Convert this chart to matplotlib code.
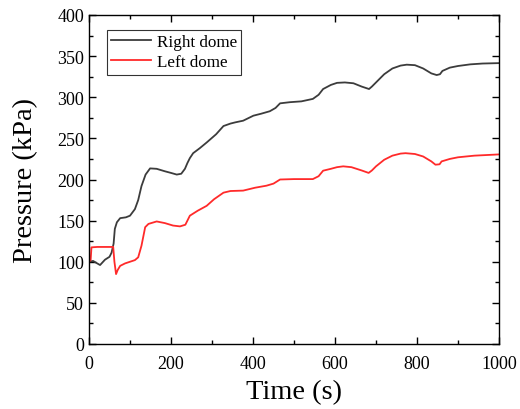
import matplotlib
matplotlib.use("Agg")
import matplotlib.pyplot as plt
from matplotlib.ticker import MultipleLocator

plt.rcParams['font.family'] = ['Liberation Serif', 'DejaVu Serif']
plt.rcParams['mathtext.fontset'] = 'stix'

# Right dome (black)
t_right = [0, 10, 20, 27, 39, 50, 55, 60, 63, 68, 76, 90, 100, 112, 120, 128, 138, 149, 165,
           185, 200, 214, 225, 234, 240, 246, 254, 270, 287, 310, 328, 345, 357, 376, 401,
           420, 441, 455, 466, 490, 518, 546, 560, 571, 590, 605, 624, 645, 665, 683, 690,
           700, 720, 740, 760, 775, 795, 815, 835, 848, 856, 862, 880, 900, 930, 960, 1000]
p_right = [100, 101, 98, 96, 102.5, 106, 111, 122, 140, 148, 153, 154, 156, 164, 175, 192, 206, 213.5, 213,
           210, 208, 206, 207, 213, 220, 226, 232, 238, 245, 255, 265, 268, 269.5, 271.5, 277.6,
           280, 283, 287, 292.6, 294, 295, 298, 303, 310, 315, 317.5, 318, 317, 313, 310, 313,
           318, 328, 335, 338.5, 339.6, 339, 335, 329, 327, 328, 332, 336, 338, 340, 341, 341.5]

# Left dome (red)
t_left = [0, 4, 6, 20, 40, 59, 62, 66, 70, 76, 88, 100, 112, 120, 128, 137, 145, 165, 185,
          205, 222, 235, 238, 246, 265, 287, 305, 328, 345, 376, 405, 433, 450, 466, 500,
          546, 560, 571, 590, 605, 620, 640, 665, 682, 690, 700, 720, 740, 760, 772, 795,
          815, 835, 845, 855, 860, 880, 900, 940, 1000]
p_left = [100, 102, 117.5, 118, 118, 118, 100, 85, 90, 95, 98, 100, 102, 105.4, 119.5, 142, 146, 149, 147,
          144, 143, 145, 148, 156, 162, 168, 176, 184, 186, 186.5, 190, 192.5, 195, 200, 200.5,
          200.5, 204, 210.7, 213, 215, 216, 215, 211, 208, 211, 216, 224, 229, 231.5, 232, 231,
          228, 222, 218, 218.5, 222, 225, 227, 229, 230.5]

fig = plt.figure(figsize=(5.2, 4.1), dpi=100)
ax = fig.add_axes([89/520, 1 - 345/410, 410/520, 329/410])

ax.plot(t_right, p_right, color='#3c3c3c', lw=1.3, label='Right dome')
ax.plot(t_left, p_left, color='#ff2a2a', lw=1.3, label='Left dome')

ax.set_xlim(0, 1000)
ax.set_ylim(0, 400)
ax.xaxis.set_major_locator(MultipleLocator(200))
ax.xaxis.set_minor_locator(MultipleLocator(100))
ax.yaxis.set_major_locator(MultipleLocator(50))
ax.yaxis.set_minor_locator(MultipleLocator(25))
ax.tick_params(which='both', direction='in', top=True, right=True, labelsize=13, width=1.0)
ax.tick_params(which='major', length=5)
ax.tick_params(which='minor', length=3)
ax.tick_params(axis='x', pad=8)
for s in ax.spines.values():
    s.set_linewidth(1.0)

ax.set_xlabel('Time (s)', fontsize=20.5, labelpad=5)
ax.set_ylabel('Pressure (kPa)', fontsize=20.5, labelpad=14)

leg = ax.legend(loc='upper left', bbox_to_anchor=(0.044, 0.955), fontsize=12.3, frameon=True,
                fancybox=False, edgecolor='black', handlelength=2.35, borderpad=0.25,
                labelspacing=0.25, handletextpad=0.3, borderaxespad=0)
leg.get_frame().set_linewidth(0.8)

fig.savefig('out.png', dpi=100)
